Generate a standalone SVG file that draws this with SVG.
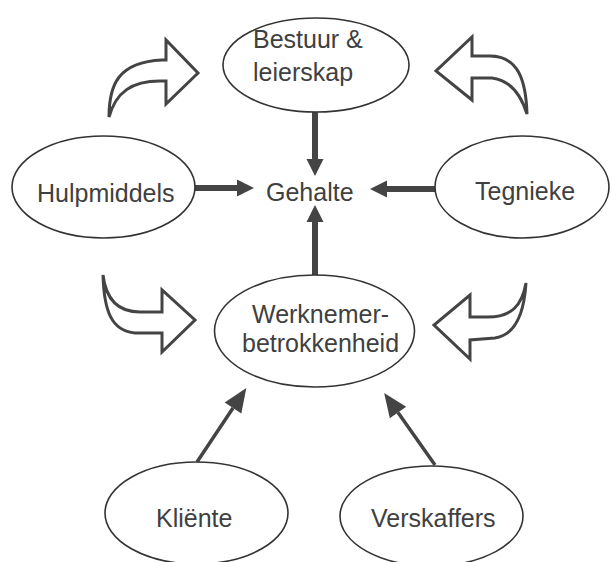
<svg xmlns="http://www.w3.org/2000/svg" width="610" height="562" viewBox="0 0 610 562">
<style>
.node ellipse{fill:#fff;stroke:#333;stroke-width:1.6}
.node text{font-family:"Liberation Sans",Arial,sans-serif;font-size:25px;fill:#404040}
.thick{stroke:#444;stroke-width:6;fill:none}
.thin{stroke:#444;stroke-width:3.5;fill:none}
.bent{fill:#fff;stroke:#444;stroke-width:3;stroke-linejoin:miter}
</style>
<defs>
<marker id="hbig" markerUnits="userSpaceOnUse" markerWidth="17" markerHeight="17" viewBox="0 0 17 17" refX="0" refY="8.5" orient="auto" overflow="visible">
<path d="M0,0 L17,8.5 L0,17 Z" fill="#444"/>
</marker>
<marker id="hsmall" markerUnits="userSpaceOnUse" markerWidth="24" markerHeight="20" viewBox="0 0 24 20" refX="0" refY="10" orient="auto" overflow="visible">
<path d="M0,0 L24,10 L0,20 Z" fill="#444"/>
</marker>
</defs>
<rect width="610" height="562" fill="#fff"/>
<g id="bent-arrows">
<path class="bent" d="M109,117 C109,85 118,62 162,60 L166,60 L166,40 L198,73 L166,104 L166,81 L160,81 C132,81 116,92 109,117 Z"/>
<path class="bent" d="M527,114 C526,80 518,56 490,56 L472,56 L472,37 L436,71 L472,100 L472,78 L492,78 C508,80 520,92 527,114 Z"/>
<path class="bent" d="M103,275 C106,300 118,312 140,312 L162,312 L162,290 L195,320 L162,352 L162,333 L135,333 C112,331 104,312 103,275 Z"/>
<path class="bent" d="M526,283 C522,305 512,317 488,317 L470,317 L470,295 L434,325 L470,359 L470,340 L495,338 C515,335 524,315 526,283 Z"/>
</g>
<g id="connectors">
<line class="thick" x1="315" y1="111" x2="315" y2="159" marker-end="url(#hbig)"/>
<line class="thick" x1="195" y1="188" x2="237" y2="188" marker-end="url(#hbig)"/>
<line class="thick" x1="437" y1="189" x2="387" y2="189" marker-end="url(#hbig)"/>
<line class="thick" x1="315" y1="276" x2="315" y2="222" marker-end="url(#hbig)"/>
<line class="thin" x1="197" y1="462" x2="233" y2="408" marker-end="url(#hsmall)"/>
<line class="thin" x1="435" y1="465" x2="398" y2="412.6" marker-end="url(#hsmall)"/>
</g>
<g id="bestuur" class="node">
<ellipse cx="316" cy="65" rx="93" ry="47"/>
<text x="253" y="48">Bestuur &amp;</text>
<text x="253" y="81">leierskap</text>
</g>
<g id="gehalte" class="node">
<text x="266" y="201">Gehalte</text>
</g>
<g id="hulpmiddels" class="node">
<ellipse cx="103.5" cy="187" rx="91.5" ry="51"/>
<text x="37" y="202">Hulpmiddels</text>
</g>
<g id="tegnieke" class="node">
<ellipse cx="522" cy="187" rx="87" ry="51"/>
<text x="475" y="200">Tegnieke</text>
</g>
<g id="werknemer" class="node">
<ellipse cx="314.5" cy="331" rx="100" ry="56"/>
<text x="252" y="323">Werknemer-</text>
<text x="242" y="352">betrokkenheid</text>
</g>
<g id="kliente" class="node">
<ellipse cx="196.5" cy="513" rx="91.5" ry="51"/>
<text x="156" y="527">Kliënte</text>
</g>
<g id="verskaffers" class="node">
<ellipse cx="431.5" cy="516" rx="91.5" ry="50"/>
<text x="371" y="527">Verskaffers</text>
</g>
</svg>
